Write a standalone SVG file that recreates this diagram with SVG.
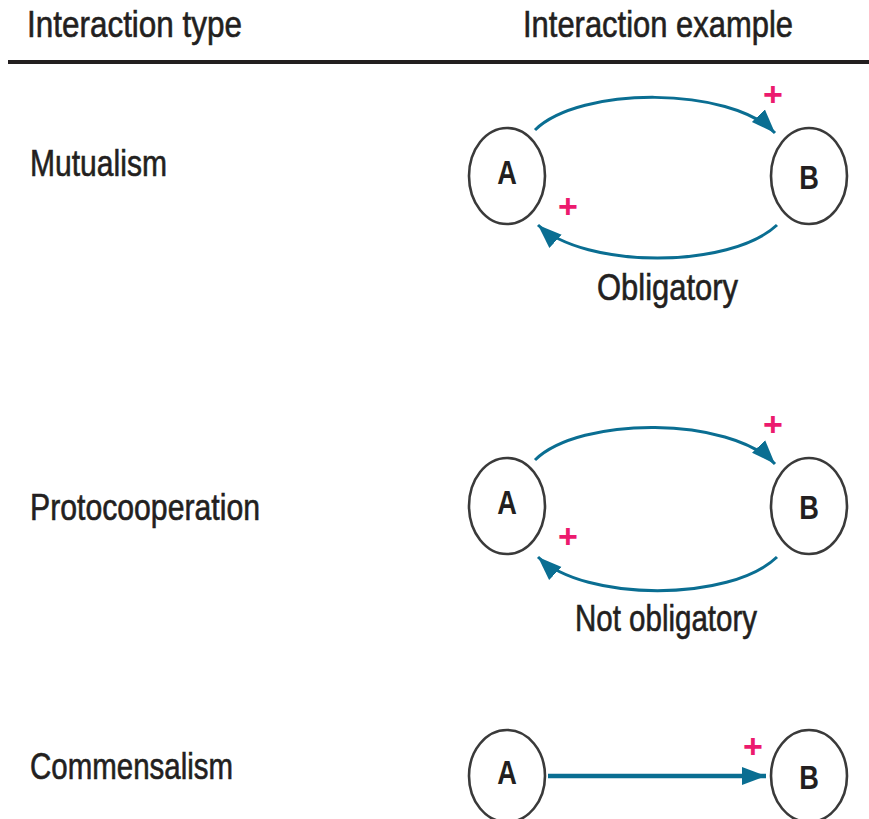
<svg xmlns="http://www.w3.org/2000/svg" width="869" height="819" viewBox="0 0 869 819">
<style>
.t{font-family:"Liberation Sans",Arial,sans-serif;font-size:36px;fill:#231f20;stroke:#231f20;stroke-width:0.6;}
.n{font-family:"Liberation Sans",Arial,sans-serif;font-size:34px;font-weight:bold;fill:#231f20;text-anchor:middle;}
.c{fill:#fff;stroke:#3a3a3a;stroke-width:2.6;}
.e{fill:none;stroke:#0a6e92;stroke-width:3;}
.p{font-family:"Liberation Sans",Arial,sans-serif;font-size:34px;font-weight:bold;fill:#ec1a6e;text-anchor:middle;}
</style>
<defs>
<marker id="ah" markerUnits="userSpaceOnUse" markerWidth="26" markerHeight="22" viewBox="0 0 26 22" refX="24" refY="11" orient="auto">
<path d="M0,2 L24,11 L0,20 Z" fill="#0a6e92"/>
</marker>
</defs>
<rect width="869" height="819" fill="#fff"/>
<g id="header">
<text class="t" x="27" y="37" textLength="215" lengthAdjust="spacingAndGlyphs">Interaction type</text>
<text class="t" x="523" y="37" textLength="270" lengthAdjust="spacingAndGlyphs">Interaction example</text>
<line x1="8" y1="62" x2="869" y2="62" stroke="#231f20" stroke-width="4"/>
</g>
<g id="labels">
<text class="t" x="30" y="176" textLength="137" lengthAdjust="spacingAndGlyphs">Mutualism</text>
<text class="t" x="30" y="520" textLength="230" lengthAdjust="spacingAndGlyphs">Protocooperation</text>
<text class="t" x="30" y="779" textLength="203" lengthAdjust="spacingAndGlyphs">Commensalism</text>
<text class="t" x="597" y="300" textLength="141" lengthAdjust="spacingAndGlyphs">Obligatory</text>
<text class="t" x="575" y="631" textLength="182" lengthAdjust="spacingAndGlyphs">Not obligatory</text>
</g>
<g id="connectors">
<path class="e" d="M535,130 C580,86 730,86 775,133" marker-end="url(#ah)"/>
<path class="e" d="M777,225 C730,269 585,269 538,225" marker-end="url(#ah)"/>
<path class="e" d="M535,460 C580,416 730,416 775,464" marker-end="url(#ah)"/>
<path class="e" d="M777,557 C730,602 585,602 538,557" marker-end="url(#ah)"/>
<line x1="548" y1="776" x2="766" y2="776" stroke="#0a6e92" stroke-width="4.5" marker-end="url(#ah)"/>
</g>
<g id="signs">
<text class="p" x="773" y="106">+</text>
<text class="p" x="568" y="218">+</text>
<text class="p" x="773" y="436">+</text>
<text class="p" x="568" y="548">+</text>
<text class="p" x="753" y="758">+</text>
</g>
<g id="m-A"><ellipse class="c" cx="507" cy="176" rx="38" ry="48"/><text class="n" x="507" y="184" transform="translate(507,0) scale(0.8,1) translate(-507,0)">A</text></g>
<g id="m-B"><ellipse class="c" cx="809" cy="176" rx="38" ry="48"/><text class="n" x="809" y="189" transform="translate(809,0) scale(0.8,1) translate(-809,0)">B</text></g>
<g id="p-A"><ellipse class="c" cx="507" cy="506" rx="38" ry="48"/><text class="n" x="507" y="514" transform="translate(507,0) scale(0.8,1) translate(-507,0)">A</text></g>
<g id="p-B"><ellipse class="c" cx="809" cy="506" rx="38" ry="48"/><text class="n" x="809" y="519" transform="translate(809,0) scale(0.8,1) translate(-809,0)">B</text></g>
<g id="c-A"><ellipse class="c" cx="507" cy="776" rx="38" ry="46"/><text class="n" x="507" y="784" transform="translate(507,0) scale(0.8,1) translate(-507,0)">A</text></g>
<g id="c-B"><ellipse class="c" cx="809" cy="776" rx="38" ry="46"/><text class="n" x="809" y="789" transform="translate(809,0) scale(0.8,1) translate(-809,0)">B</text></g>
</svg>
